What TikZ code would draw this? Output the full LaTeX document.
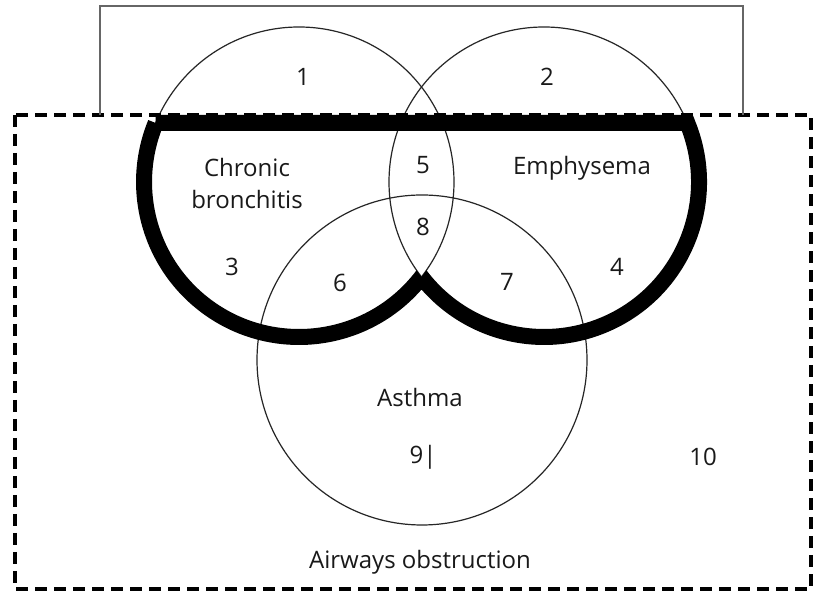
\documentclass[tikz,border=0pt]{standalone}
\usepackage{fontspec}
\setmainfont{Open Sans}
\usetikzlibrary{calc}
\begin{document}
\begin{tikzpicture}[x=0.5pt,y=0.5pt,
  thinline/.style={line width=0.6pt, draw=black!85},
  heavy/.style={line width=8pt, line join=miter, draw=black},
  obstr/.style={line width=1.6pt, dash pattern=on 6pt off 3.5pt, draw=black},
  boxline/.style={line width=0.6pt, draw=black!60},
  lab/.style={font=\fontsize{12}{16}\selectfont, text=black!90, inner sep=0pt, align=center}]
\useasboundingbox (0,0) rectangle (819,598);
\fill[white] (0,0) rectangle (819,598);
\coordinate (L) at (299,416);
\coordinate (R) at (544,416);
\coordinate (A) at (422,238);
\coordinate (cusp) at ($(L)+(-37.79:155)$);
\coordinate (lensL) at ($(L)+(-5.92:155)$);
\coordinate (lensR) at ($(R)+(185.92:155)$);
% thin circles
\draw[thinline] (L) circle[radius=155];
\draw[thinline] (R) circle[radius=155];
\draw[thinline] (A) circle[radius=165];
% heavy outline, with the cusp spike trimmed along the thin arcs
\begin{scope}[even odd rule]
  \clip (0,0) rectangle (819,598)
    (cusp) arc[start angle=-37.79, end angle=-5.92, radius=155]
    -- (lensR) arc[start angle=185.92, end angle=217.79, radius=155] -- cycle;
  \draw[heavy] ($(L)+(157.625:155)$) -- ($(R)+(22.375:155)$)
    arc[start angle=22.375, end angle=-142.21, radius=155]
    arc[start angle=-37.79, end angle=-202.375, radius=155] -- cycle;
\end{scope}
% airways obstruction dashed box
\draw[obstr] (15,483) rectangle (811,9);
% top box (open at bottom)
\draw[boxline] (100,483) -- (100,592) -- (743,592) -- (743,483);
% labels
\node[lab] (n1) at (303,521) {1};
\node[lab] (n2) at (547,521) {2};
\node[lab] (cb) at (247,414) {Chronic\\bronchitis};
\node[lab] (n5) at (423,433) {5};
\node[lab] (emph) at (582,430) {Emphysema};
\node[lab] (n8) at (423,371) {8};
\node[lab] (n3) at (232,331) {3};
\node[lab] (n6) at (340,315) {6};
\node[lab] (n7) at (507,316) {7};
\node[lab] (n4) at (617,331) {4};
\node[lab] (asth) at (420,200) {Asthma};
\node[lab] (n9) at (423,141) {9|};
\node[lab] (n10) at (703,141) {10};
\node[lab] (ao) at (420,36) {Airways obstruction};
\end{tikzpicture}
\end{document}
